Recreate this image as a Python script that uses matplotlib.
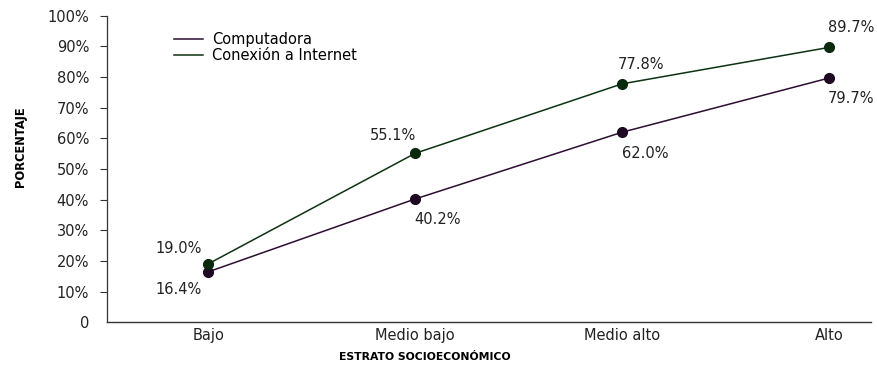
import matplotlib.pyplot as plt

categorias = ["Bajo", "Medio bajo", "Medio alto", "Alto"]
computadora = [16.4, 40.2, 62.0, 79.7]
internet = [19.0, 55.1, 77.8, 89.7]
ticks_y = [0, 10, 20, 30, 40, 50, 60, 70, 80, 90, 100]
etiquetas_y = ["0"] + [f"{t}%" for t in ticks_y[1:]]

plt.rcParams['font.family'] = ['DejaVu Sans']

fig = plt.figure(figsize=(8.78, 3.69), dpi=100)
ax = fig.add_axes([0.122, 0.127, 0.87, 0.83])

x = list(range(len(categorias)))
col_comp = "#2e0d33"
col_int = "#0d3312"

ax.plot(x, computadora, color=col_comp, lw=1.1, marker="o", ms=7,
        mfc="#1e0822", mec="#1e0822", label="Computadora", zorder=3)
ax.plot(x, internet, color=col_int, lw=1.1, marker="o", ms=7,
        mfc="#0a2a0d", mec="#0a2a0d", label="Conexión a Internet", zorder=3)

# etiquetas de valores (desplazamientos en puntos)
desp_int = [(-21, 11), (-16, 13), (14, 14), (16, 14)]
desp_comp = [(-21, -13), (16, -15), (17, -15), (16, -15)]
for i in x:
    ax.annotate(f"{internet[i]:.1f}%", (i, internet[i]), xytext=desp_int[i],
                textcoords="offset points", ha="center", va="center",
                fontsize=10.5, color="#222222")
    ax.annotate(f"{computadora[i]:.1f}%", (i, computadora[i]), xytext=desp_comp[i],
                textcoords="offset points", ha="center", va="center",
                fontsize=10.5, color="#222222")

ax.set_ylim(0, 100)
ax.set_xlim(-0.488, 3.203)
ax.set_yticks(ticks_y)
ax.set_yticklabels(etiquetas_y, fontsize=10.5, color="#222222")
ax.set_xticks(x)
ax.set_xticklabels(categorias, fontsize=10.5, color="#222222")
ax.tick_params(axis="x", length=0, pad=4)
ax.tick_params(axis="y", length=5, width=0.8, color="#333333", pad=8)
ax.yaxis.get_major_ticks()[0].tick1line.set_visible(False)

for s in ["top", "right"]:
    ax.spines[s].set_visible(False)
ax.spines["left"].set_color("#333333")
ax.spines["bottom"].set_color("#333333")
ax.spines["left"].set_linewidth(0.9)
ax.spines["bottom"].set_linewidth(1.0)

ax.set_ylabel("PORCENTAJE", fontsize=8.3, fontweight="bold")
ax.yaxis.set_label_coords(-0.105, 0.572)
ax.set_xlabel("ESTRATO SOCIOECONÓMICO", fontsize=7.8, fontweight="bold")
ax.xaxis.set_label_coords(0.416, -0.098)

leg = ax.legend(loc="upper left", bbox_to_anchor=(0.07, 0.99), frameon=False,
                fontsize=10.5, handlelength=2.0, handletextpad=0.6,
                labelspacing=0.05)
for h in leg.legend_handles:
    h.set_marker("")

fig.savefig("out.png", dpi=100)
